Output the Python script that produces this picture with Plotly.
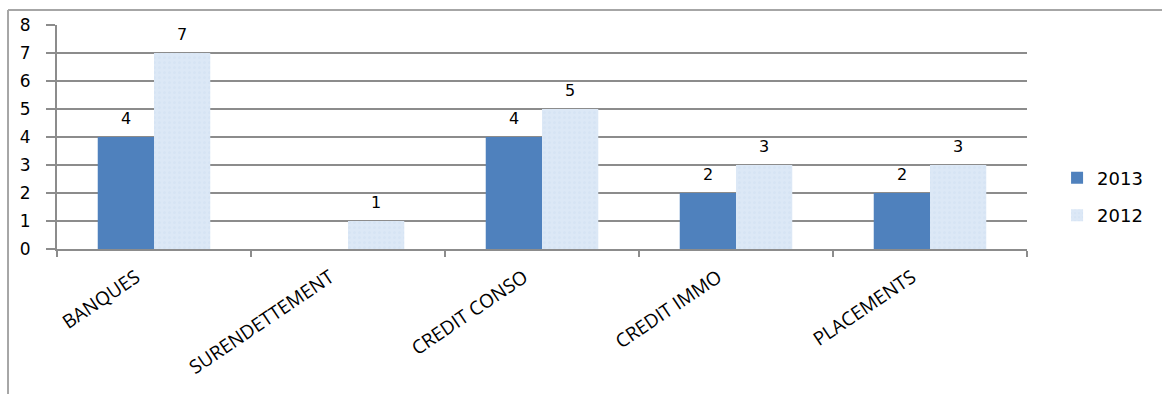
import plotly.graph_objects as go

categories = ["BANQUES", "SURENDETTEMENT", "CREDIT CONSO", "CREDIT IMMO", "PLACEMENTS"]
values_2013 = [4, None, 4, 2, 2]
values_2012 = [7, 1, 5, 3, 3]

C2013 = "#4F81BD"
C2012 = "#DCE8F6"
GRID = "#8C8C8C"

fig = go.Figure()
fig.add_trace(go.Bar(
    name="2013", x=categories, y=values_2013,
    marker=dict(color=C2013, line=dict(width=0)),
    legendgroup="a",
))
fig.add_trace(go.Bar(
    name="2012", x=categories, y=values_2012,
    marker=dict(color=C2012, line=dict(width=0),
                pattern=dict(shape=".", fgcolor="#CFDFF1", bgcolor=C2012,
                             size=5, solidity=0.3)),
    legendgroup="b",
))

# value labels above each bar
annotations = []
for vals, shift in ((values_2013, -28), (values_2012, 28)):
    for cat, v in zip(categories, vals):
        if v is None:
            continue
        annotations.append(dict(
            x=cat, y=v, xref="x", yref="y", text=str(v), showarrow=False,
            xshift=shift, yshift=19, font=dict(family="DejaVu Sans", size=16, color="#000000"),
        ))

# outer frame lines (top and left)
shapes = [
    dict(type="line", xref="paper", yref="paper", x0=-0.0505, x1=1.2, y0=1.067, y1=1.067,
         line=dict(color="#A6A6A6", width=2)),
    dict(type="line", xref="paper", yref="paper", x0=-0.0505, x1=-0.0505, y0=1.067, y1=-0.7,
         line=dict(color="#A6A6A6", width=2)),
]

fig.update_layout(
    width=1162, height=394,
    margin=dict(l=57, r=135, t=25, b=145),
    paper_bgcolor="white", plot_bgcolor="white",
    barmode="group", bargap=0.42, bargroupgap=0,
    annotations=annotations, shapes=shapes,
    legend=dict(x=1.031, y=0.234, yanchor="middle", xanchor="left",
                font=dict(family="DejaVu Sans", size=18, color="#000000"),
                traceorder="grouped", tracegroupgap=11, itemwidth=30),
    font=dict(family="DejaVu Sans", color="#000000"),
)
fig.update_xaxes(
    type="category", tickson="boundaries", ticks="outside", ticklen=6, tickcolor=GRID,
    tickwidth=2, showline=True, linecolor=GRID, linewidth=2, tickangle=-34,
    ticklabelshift=-18, ticklabelstandoff=8,
    tickfont=dict(family="Open Sans", size=19, color="#000000"),
)
fig.update_yaxes(
    range=[0, 8], dtick=1, ticks="outside", ticklen=9, tickcolor=GRID, tickwidth=2,
    showgrid=True, gridcolor=GRID, gridwidth=2, showline=True, linecolor=GRID, linewidth=2,
    zeroline=False, ticklabelstandoff=12,
    tickfont=dict(family="DejaVu Sans", size=17, color="#000000"),
)

fig.write_html("out.html")
